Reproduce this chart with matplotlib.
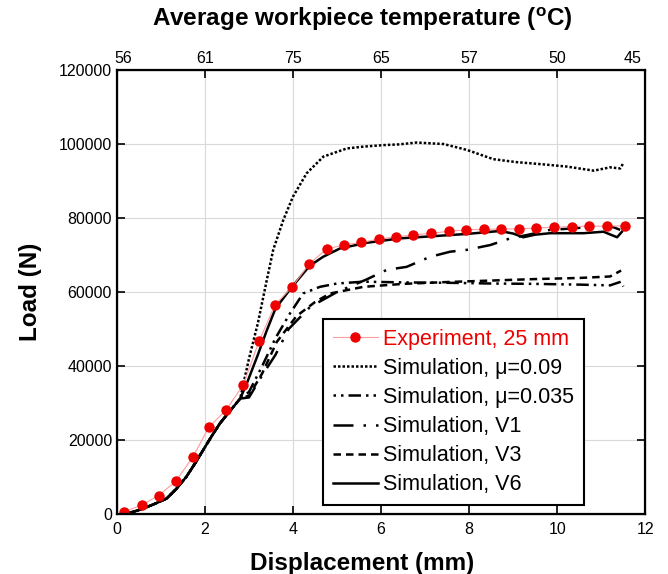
"""Load vs displacement: experiment and five simulation variants, with a temperature axis on top."""

import matplotlib

matplotlib.use("Agg")
import matplotlib.pyplot as plt

plt.rcParams["font.family"] = ["Liberation Sans", "DejaVu Sans"]
plt.rcParams["mathtext.fontset"] = "custom"
plt.rcParams["mathtext.rm"] = "Liberation Sans"
plt.rcParams["mathtext.bf"] = "Liberation Sans:bold"

# experiment, 25 mm (red dots)
exp_x = [0.16, 0.56, 0.95, 1.34, 1.73, 2.09, 2.48, 2.87, 3.23, 3.59, 3.98, 4.37, 4.77,
         5.16, 5.55, 5.95, 6.34, 6.73, 7.14, 7.54, 7.93, 8.33, 8.73, 9.14, 9.52, 9.93,
         10.33, 10.73, 11.13, 11.54]
exp_y = [600, 2400, 5000, 8900, 15500, 23500, 28100, 34900, 46800, 56500, 61400, 67600,
         71700, 72700, 73400, 74300, 74950, 75400, 75900, 76400, 76800, 76950, 77000,
         77100, 77300, 77500, 77700, 77800, 77800, 77900]

# shared early part of every simulation
common_x = [0.18, 0.4, 0.6, 0.85, 1.13, 1.35, 1.58, 1.77, 1.96, 2.15, 2.34, 2.55, 2.8]
common_y = [0, 700, 1500, 2700, 4200, 6800, 10100, 13600, 17300, 21000, 24500, 27600,
            31200]

mu009_x = [3.0, 3.2, 3.4, 3.55, 3.78, 4.0, 4.31, 4.69, 5.22, 5.6, 6.05, 6.4, 6.81, 7.42,
           7.95, 8.55, 9.08, 9.69, 10.22, 10.83, 11.2, 11.43, 11.5]
mu009_y = [42000, 51500, 63000, 71400, 79500, 85800, 92100, 96600, 98800, 99300, 99700,
           99900, 100400, 100000, 98400, 95900, 95100, 94500, 93900, 92800, 93700, 93400,
           94800]

mu0035_x = [3.0, 3.3, 3.6, 3.93, 4.23, 4.61, 5.0, 5.6, 6.5, 7.5, 8.5, 9.5, 10.5, 11.2,
            11.45, 11.5]
mu0035_y = [33000, 40000, 47500, 54200, 59600, 61400, 62300, 62800, 62600, 62500, 62300,
            62200, 62000, 61800, 62800, 61500]

v1_x = [3.0, 3.3, 3.6, 3.9, 4.39, 5.0, 5.67, 6.13, 6.58, 7.11, 7.57, 7.95, 8.48, 8.93,
        9.31, 9.84, 10.37, 10.9, 11.28, 11.43]
v1_y = [31500, 37500, 43000, 50000, 56000, 60000, 63400, 66000, 66800, 69500, 70900,
        71400, 72700, 74500, 75400, 76800, 77200, 77800, 77500, 76800]

v3_x = [3.0, 3.3, 3.63, 4.08, 4.5, 4.84, 5.6, 6.5, 7.5, 8.5, 9.5, 10.5, 11.2, 11.45]
v3_y = [32000, 38000, 46500, 53500, 57300, 59600, 61400, 62200, 62700, 63100, 63500,
        63800, 64200, 65800]

v6_x = [2.95, 3.2, 3.4, 3.6, 3.95, 4.37, 4.68, 5.07, 5.67, 6.43, 7.19, 7.95, 8.7, 9.0,
        9.23, 9.5, 9.84, 10.6, 11.05, 11.36, 11.47]
v6_y = [35300, 43000, 49500, 55500, 61000, 67000, 69500, 71800, 73300, 74500, 75100,
        75700, 76500, 75800, 74800, 75500, 75900, 75900, 76300, 74800, 76300]

temp_pos = [0.15, 2, 4, 6, 8, 10, 11.7]
temp_labels = ["56", "61", "75", "65", "57", "50", "45"]

fig = plt.figure(figsize=(6.68, 5.74), dpi=100)
ax = fig.add_axes([0.175, 0.1045, 0.791, 0.7735])

ax.grid(True, color="#d9d9d9", linewidth=0.8)
ax.set_axisbelow(True)

ax.plot(common_x + mu009_x, common_y + mu009_y, color="black", lw=1.8, ls=(0, (1, 0.8)),
        label="Simulation, μ=0.09")
ax.plot(common_x + mu0035_x, common_y + mu0035_y, color="black", lw=1.8,
        ls=(0, (1, 2, 1, 2, 5, 2)), label="Simulation, μ=0.035")
ax.plot(common_x + v1_x, common_y + v1_y, color="black", lw=1.8,
        ls=(0, (8, 4, 1, 4)), label="Simulation, V1")
ax.plot(common_x + v3_x, common_y + v3_y, color="black", lw=1.8, ls=(0, (3, 2)),
        label="Simulation, V3")
ax.plot(common_x + v6_x, common_y + v6_y, color="black", lw=1.8, ls="-",
        label="Simulation, V6")
ax.plot(exp_x, exp_y, color="#ff9c9c", lw=0.8, marker="o", ms=6.5,
        mfc="#ee0000", mec="#ee0000", label="Experiment, 25 mm")

ax.set_xlim(0, 12)
ax.set_ylim(0, 120000)
ax.set_xticks(range(0, 13, 2))
ax.set_yticks(range(0, 120001, 20000))
ax.tick_params(direction="in", length=6, width=1.2, labelsize=11.5, right=True)
ax.tick_params(axis="x", pad=6)
for s in ax.spines.values():
    s.set_linewidth(1.6)
ax.set_xlabel("Displacement (mm)", fontsize=17.5, fontweight="bold")
ax.xaxis.set_label_coords(0.465, -0.085)
ax.set_ylabel("Load (N)", fontsize=17.5, fontweight="bold", labelpad=12)

top = ax.twiny()
top.set_xlim(ax.get_xlim())
top.set_xticks(temp_pos, labels=temp_labels)
top.tick_params(direction="in", length=6, width=1.2, labelsize=11.5, pad=3)
for t in (top.xaxis.get_major_ticks()[0], top.xaxis.get_major_ticks()[-1]):
    t.tick2line.set_visible(False)
top.set_xlabel(r"Average workpiece temperature ($^{\mathbf{o}}$C)", fontsize=17.5,
               fontweight="bold")
top.xaxis.set_label_coords(0.465, 1.1)

handles, labels = ax.get_legend_handles_labels()
order = [5, 0, 1, 2, 3, 4]
leg = ax.legend([handles[i] for i in order], [labels[i] for i in order],
                loc="lower left", bbox_to_anchor=(0.39, 0.02), borderaxespad=0,
                fontsize=15.5, frameon=True, fancybox=False, edgecolor="black",
                framealpha=1, handlelength=2.1, handletextpad=0.25, borderpad=0.45,
                labelspacing=0.38)
leg.get_frame().set_linewidth(1.5)
leg.get_texts()[0].set_color("#ee0000")

fig.savefig("out.png", dpi=100)
